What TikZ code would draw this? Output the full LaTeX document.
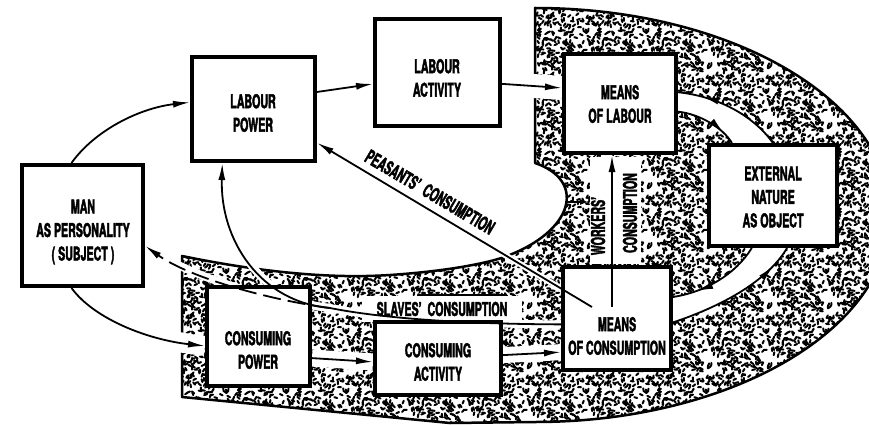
\documentclass[tikz,border=0pt]{standalone}
\usepackage{fontspec}
\setmainfont{TeX Gyre Heros}[FakeStretch=0.56, BoldFeatures={FakeBold=2}]
\usetikzlibrary{arrows.meta,patterns,decorations.markings,backgrounds}

% speckled texture of the material sphere
\pgfdeclarepatternformonly{speckle}{\pgfqpoint{-5pt}{-5pt}}{\pgfqpoint{65pt}{65pt}}{\pgfqpoint{60pt}{60pt}}{%
  \pgfsetlinewidth{2pt}%
  \pgfsetroundcap
  \pgfmathsetseed{42}%
  \foreach \k in {1,...,215}{%
    \pgfmathsetmacro\sx{60*rnd}%
    \pgfmathsetmacro\sy{60*rnd}%
    \pgfmathsetmacro\sa{360*rnd}%
    \pgfpathmoveto{\pgfqpoint{\sx pt}{\sy pt}}%
    \pgfpathlineto{\pgfpointadd{\pgfqpoint{\sx pt}{\sy pt}}{\pgfpointpolar{\sa}{3pt}}}%
    \pgfusepath{stroke}%
  }%
}

\tikzset{
  box/.style={draw, line width=4pt, fill=white, inner sep=0pt},
  caption/.style={font=\bfseries\fontsize{19}{23.5}\selectfont, align=center, inner sep=1pt},
  flow/.style={line width=1.8pt, -{Latex[length=17pt,width=7pt]}},
  flowat/.style={line width=1.8pt, postaction={decorate},
    decoration={markings, mark=at position #1 with {\arrow{Latex[length=17pt,width=7pt]}}}},
  rim/.style={line width=2.5pt, line join=round},
  channel/.style={draw=white, line width=#1},
}

\begin{document}
\begin{tikzpicture}[x=1pt, y=-1pt]
\useasboundingbox (0,0) rectangle (869,425);

% boxes
\node[box, minimum width=121pt, minimum height=121pt] (man) at (82.5,225.5) {};
\node[box, minimum width=123pt, minimum height=104pt] (lp) at (253.5,109) {};
\node[box, minimum width=125pt, minimum height=107pt] (la) at (437.5,72.5) {};
\node[box, minimum width=112pt, minimum height=99pt] (ml) at (620,103.5) {};
\node[box, minimum width=128pt, minimum height=101pt] (en) at (773,195.5) {};
\node[box, minimum width=108pt, minimum height=103pt] (mc) at (617,318.5) {};
\node[box, minimum width=103pt, minimum height=99pt] (cp) at (258.5,336.5) {};
\node[box, minimum width=126pt, minimum height=73pt] (ca) at (438,358.5) {};

\node[caption] (mantxt) at (83,232) {MAN\\AS PERSONALITY\\( SUBJECT )};
\node[caption] (lptxt) at (253,113) {LABOUR\\POWER};
\node[caption] (latxt) at (437,78) {LABOUR\\ACTIVITY};
\node[caption] (mltxt) at (620,104) {MEANS\\OF LABOUR};
\node[caption] (entxt) at (773,197) {EXTERNAL\\NATURE\\AS OBJECT};
\node[caption] (mctxt) at (617,336) {MEANS\\OF CONSUMPTION};
\node[caption] (cptxt) at (258,350) {CONSUMING\\POWER};
\node[caption] (catxt) at (438,362) {CONSUMING\\ACTIVITY};

\coordinate (peasfrom) at (592,307);
\coordinate (workfrom) at (612,307);
\coordinate (slavefork) at (330,308);
\coordinate (bumptip) at (565,202);
\coordinate (bumpto) at (589,202);

% production cycle
\draw[flow] (man.100) .. controls (95,130) and (140,108) .. (lp.174);
\draw[flow] (lp.15) -- (la.190);
\draw[flow] (la.350) -- (ml.165);
\draw[flowat=0.78] (en.north) .. controls (755,118) and (722,97) .. (ml.11);
\draw[flowat=0.8] (ml.352) .. controls (700,114) and (723,128) .. (en.128);
\draw[flowat=0.75] (en.248) .. controls (735,275) and (705,292) .. (mc.21);
\draw[flowat=0.84] (mc.356) .. controls (725,305) and (768,280) .. (en.285);

% consumption
\draw[flow] (workfrom) -- (workfrom |- ml.south);
\draw[flow] (peasfrom) -- (lp.332);
\draw[flow] (mc.186) .. controls (460,324) and (380,318) .. (slavefork)
  .. controls (260,302) and (220,240) .. (lp.240);
\draw[flow, dash pattern=on 18pt off 7pt] (slavefork) .. controls (270,300) and (190,278) .. (man.342);
\draw[flow] (man.260) .. controls (95,320) and (150,340) .. (cp.190);
\draw[flow] (cp.338) -- (ca.183);
\draw[flow] (ca.3) -- (mc.211);
\draw[line width=1.8pt, -{Latex[length=9pt,width=6pt]}] (bumptip) -- (bumpto);
\draw[rim] (418,295) -- (505,295);

% labels
\node[caption, rotate=-30.5] (peas) at (430,192) {PEASANTS'~~CONSUMPTION};
\node[caption, rotate=90] (wrk) at (598,226) {WORKERS'};
\node[caption, rotate=90] (wcons) at (630,213) {CONSUMPTION};
\node[caption] (slv) at (442,309) {SLAVES'~~CONSUMPTION};

\begin{pgfonlayer}{background}
\fill[white] (0,0) rectangle (869,425);
\filldraw[rim, pattern=speckle] (182,256) .. controls (260,272) and (330,279) .. (390,275)
  .. controls (450,271) and (495,262) .. (512,254)
  .. controls (575,228) and (585,180) .. (535,163) -- (535,8)
  .. controls (731,8) and (890,100.7) .. (890,215)
  .. controls (890,329.3) and (731,422) .. (535,422) -- (450,423) -- (182,397) -- cycle;
% white channels
\fill[white] (en.north) .. controls (755,118) and (722,97) .. (ml.11) -- (ml.352)
  .. controls (700,114) and (723,128) .. (en.128) -- cycle;
\fill[white] (en.248) .. controls (735,275) and (705,292) .. (mc.21) -- (mc.356)
  .. controls (725,305) and (768,280) .. (en.285) -- cycle;
\fill[white] (590,157) rectangle (641,264);
\fill[white] (362,296) rectangle (522,322);
\draw[channel=24pt] (la.350) -- (ml.165);
\draw[channel=20pt] (man.260) .. controls (95,320) and (150,340) .. (cp.190);
\draw[channel=17pt] (cp.338) -- (ca.183);
\draw[channel=16pt] (ca.3) -- (mc.211);
\draw[channel=8pt] (slavefork) .. controls (270,300) and (190,278) .. (man.342);
\draw[channel=8pt] (mc.186) .. controls (460,324) and (380,318) .. (slavefork)
  .. controls (260,302) and (220,240) .. (lp.240);
\draw[channel=6pt] (peasfrom) -- (lp.332);
\end{pgfonlayer}
\end{tikzpicture}
\end{document}
